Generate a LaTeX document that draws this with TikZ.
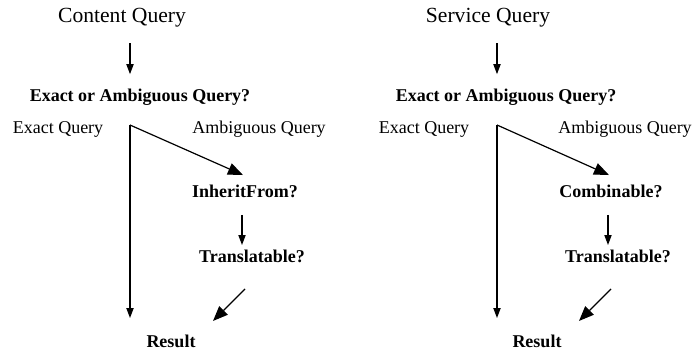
\documentclass[tikz,border=0pt]{standalone}
\usepackage{fontspec}
\setmainfont{Liberation Serif}
\usepackage{tikz}
\usetikzlibrary{arrows.meta,positioning,calc}

\begin{document}
\begin{tikzpicture}[x=0.5pt, y=-0.5pt, line width=0.6pt,
  every node/.style={inner sep=0pt},
  title/.style={font=\fontsize{10.8}{13}\selectfont},
  ask/.style={font=\fontsize{9}{11}\selectfont\bfseries},
  branch/.style={font=\fontsize{9}{11}\selectfont},
  arr/.style={-{Triangle[length=5pt,width=3.6pt]}},
  bigarr/.style={-{Triangle[length=7.5pt,width=6pt]}}]
  \useasboundingbox (0,0) rectangle (692,352);

  \node[title] (cq) at (122,18) {Content Query};
  \node[ask] (eqa) at (140,97) {Exact or Ambiguous Query?};
  \coordinate (splita) at (130,125);
  \node[branch] (exa) at (58,129) {Exact Query};
  \node[branch] (ama) at (259,129) {Ambiguous Query};
  \node[ask] (inh) at (245,191) {InheritFrom?};
  \node[ask] (tra) at (252,256) {Translatable?};
  \node[ask] (resa) at (171,341) {Result};
  \draw[arr, shorten <=7.5pt, shorten >=7pt] (cq.south -| splita) -- (eqa.north -| splita);
  \draw[arr, shorten >=8pt] (splita) -- (splita |- resa.north);
  \draw[bigarr] (splita) -- ($(inh.north)+(-2,-9)$);
  \draw[arr, shorten <=8.5pt, shorten >=2pt] ([xshift=-1.5pt]inh.south) -- ([xshift=-1.5pt]inh.south |- tra.north);
  \draw[bigarr] ($(tra.south)+(-7,26)$) -- ++(-32,32);

  \node[title] (sq) at (488,18) {Service Query};
  \node[ask] (eqb) at (506,97) {Exact or Ambiguous Query?};
  \coordinate (splitb) at (497,125);
  \node[branch] (exb) at (424,129) {Exact Query};
  \node[branch] (amb) at (625,129) {Ambiguous Query};
  \node[ask] (cmb) at (611,191) {Combinable?};
  \node[ask] (trb) at (618,256) {Translatable?};
  \node[ask] (resb) at (537,341) {Result};
  \draw[arr, shorten <=7.5pt, shorten >=7pt] (sq.south -| splitb) -- (eqb.north -| splitb);
  \draw[arr, shorten >=8pt] (splitb) -- (splitb |- resb.north);
  \draw[bigarr] (splitb) -- ($(cmb.north)+(-2,-9)$);
  \draw[arr, shorten <=8.5pt, shorten >=2pt] ([xshift=-1.5pt]cmb.south) -- ([xshift=-1.5pt]cmb.south |- trb.north);
  \draw[bigarr] ($(trb.south)+(-7,26)$) -- ++(-32,32);
\end{tikzpicture}
\end{document}
